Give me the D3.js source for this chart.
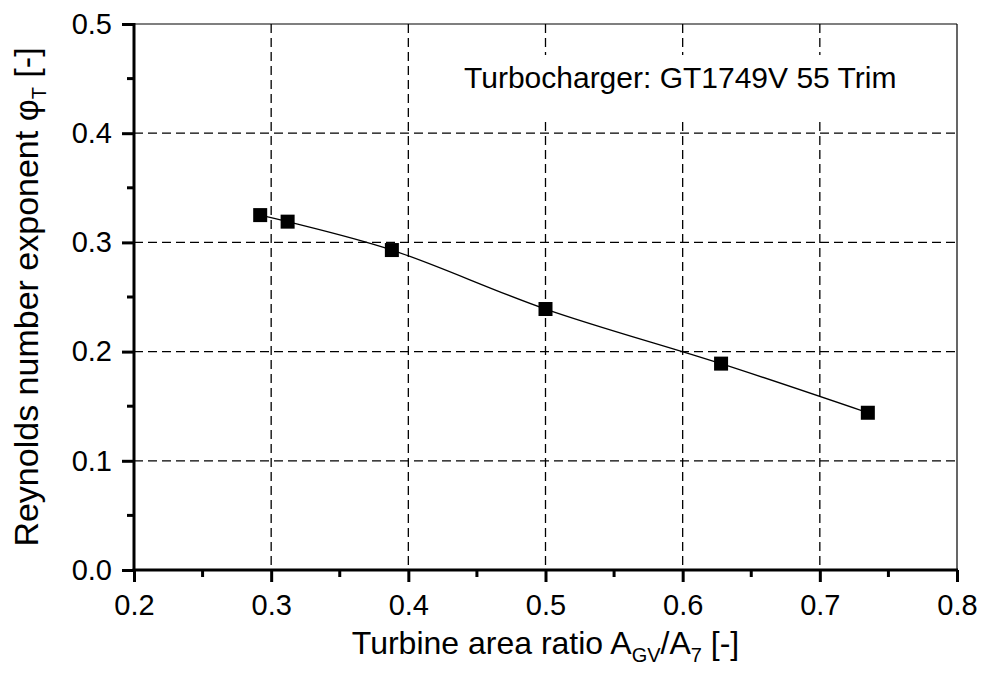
<!DOCTYPE html>
<html><head><meta charset="utf-8">
<script src="https://cdn.jsdelivr.net/npm/d3@7"></script>
<style>body{margin:0;background:#fff}svg{display:block}text{font-family:"Liberation Sans",Arial,sans-serif;fill:#000}</style>
</head><body>
<svg id="c" width="981" height="675"></svg>
<script>
const areaRatio = [0.292, 0.312, 0.388, 0.500, 0.628, 0.735];
const reExponent = [0.325, 0.319, 0.293, 0.239, 0.189, 0.144];
const xTicks = [0.2, 0.3, 0.4, 0.5, 0.6, 0.7, 0.8];
const yTicks = [0.0, 0.1, 0.2, 0.3, 0.4, 0.5];
const xMinor = [0.25, 0.35, 0.45, 0.55, 0.65, 0.75];
const yMinor = [0.05, 0.15, 0.25, 0.35, 0.45];

const svg = d3.select("#c");
const L = 134, R = 957, T = 24, B = 570;
const x = d3.scaleLinear().domain([0.2, 0.8]).range([L, R]);
const y = d3.scaleLinear().domain([0, 0.5]).range([B, T]);

// grid
const grid = svg.append("g").attr("stroke", "#000").attr("stroke-width", 1.3).attr("stroke-dasharray", "9,5");
grid.selectAll(".gx").data(xTicks.slice(1, -1)).join("line")
  .attr("x1", d => x(d)).attr("x2", d => x(d)).attr("y1", T).attr("y2", B);
grid.selectAll(".gy").data(yTicks.slice(1, -1)).join("line")
  .attr("y1", d => y(d)).attr("y2", d => y(d)).attr("x1", L).attr("x2", R);

// frame top/right thin
svg.append("line").attr("x1", L).attr("x2", R).attr("y1", T).attr("y2", T).attr("stroke", "#000").attr("stroke-width", 1.2);
svg.append("line").attr("x1", R).attr("x2", R).attr("y1", T).attr("y2", B).attr("stroke", "#000").attr("stroke-width", 1.2);

// axes
const xAxis = d3.axisBottom(x).tickValues(xTicks).tickSize(12).tickPadding(0).tickFormat(d3.format(".1f"));
const gx = svg.append("g").attr("transform", `translate(0,${B})`).call(xAxis);
const yAxis = d3.axisLeft(y).tickValues(yTicks).tickSize(12).tickPadding(10).tickFormat(d3.format(".1f"));
const gy = svg.append("g").attr("transform", `translate(${L},0)`).call(yAxis);
[gx, gy].forEach(g => {
  g.attr("font-size", 29).attr("font-family", "Liberation Sans, Arial, sans-serif");
  g.select(".domain").remove();
  g.selectAll(".tick line").attr("stroke", "#000").attr("stroke-width", 3);
  g.selectAll(".tick text").attr("fill", "#000");
});
gx.selectAll(".tick text").attr("dy", null).attr("y", 45);
svg.append("g").selectAll("line").data(xMinor).join("line")
  .attr("x1", d => x(d)).attr("x2", d => x(d)).attr("y1", B).attr("y2", B + 7)
  .attr("stroke", "#000").attr("stroke-width", 3);
svg.append("g").selectAll("line").data(yMinor).join("line")
  .attr("y1", d => y(d)).attr("y2", d => y(d)).attr("x1", L).attr("x2", L - 7)
  .attr("stroke", "#000").attr("stroke-width", 3);
svg.append("line").attr("x1", L - 1.5).attr("x2", R + 1).attr("y1", B).attr("y2", B).attr("stroke", "#000").attr("stroke-width", 3);
svg.append("line").attr("x1", L).attr("x2", L).attr("y1", T - 1).attr("y2", B + 1.5).attr("stroke", "#000").attr("stroke-width", 3);

// line
const pts = areaRatio.map((d, i) => [d, reExponent[i]]);
svg.append("path").datum(pts)
  .attr("d", d3.line().x(d => x(d[0])).y(d => y(d[1])).curve(d3.curveCatmullRom.alpha(0.5)))
  .attr("fill", "none").attr("stroke", "#000").attr("stroke-width", 1.3);

// markers
const s = 14;
svg.append("g").selectAll("rect").data(pts).join("rect")
  .attr("x", d => x(d[0]) - s / 2).attr("y", d => y(d[1]) - s / 2)
  .attr("width", s).attr("height", s).attr("fill", "#000");

// annotation with white box
svg.append("rect").attr("x", 456).attr("y", 55).attr("width", 452).attr("height", 63).attr("fill", "#fff");
svg.append("text").attr("x", 464).attr("y", 88).attr("font-size", 30).text("Turbocharger: GT1749V 55 Trim");

// x title
const xt = svg.append("text").attr("x", (L + R) / 2).attr("y", 654).attr("text-anchor", "middle").attr("font-size", 32);
xt.append("tspan").text("Turbine area ratio A");
xt.append("tspan").attr("font-size", 20).attr("dy", 8).text("GV");
xt.append("tspan").attr("dy", -8).text("/A");
xt.append("tspan").attr("font-size", 20).attr("dy", 8).text("7");
xt.append("tspan").attr("dy", -8).text(" [-]");

// y title
const yt = svg.append("text").attr("transform", `translate(38,${(T + B) / 2}) rotate(-90)`).attr("text-anchor", "middle").attr("font-size", 34);
yt.append("tspan").text("Reynolds number exponent φ");
yt.append("tspan").attr("font-size", 20).attr("dy", 8).text("T");
yt.append("tspan").attr("dy", -8).text(" [-]");
</script>
</body></html>
